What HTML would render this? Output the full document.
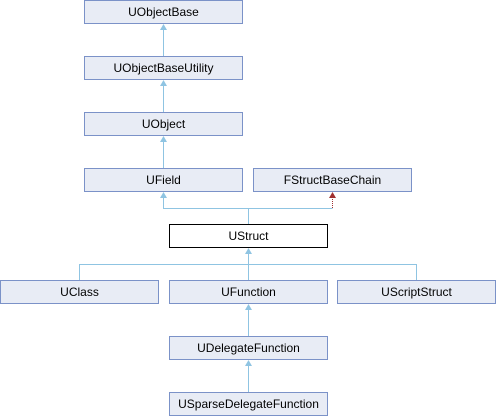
<html><head><style>body{margin:0;background:#fff}svg{display:block}text{font-family:"Liberation Sans",sans-serif;font-size:12px;text-anchor:middle}</style></head><body>
<svg width="497" height="416" xmlns="http://www.w3.org/2000/svg">
<g stroke="#8fc4e2" fill="none">
<line x1="163.5" y1="56" x2="163.5" y2="28"/>
<line x1="163.5" y1="112" x2="163.5" y2="84"/>
<line x1="163.5" y1="168" x2="163.5" y2="140"/>
<polyline points="248.5,224 248.5,208.5 163.5,208.5 163.5,196"/>
<line x1="248.5" y1="208.5" x2="332.5" y2="208.5"/>
<polyline points="79.5,280 79.5,264.5 416.5,264.5 416.5,280"/>
<line x1="248.5" y1="280" x2="248.5" y2="252"/>
<line x1="248.5" y1="336" x2="248.5" y2="308"/>
<line x1="248.5" y1="392" x2="248.5" y2="364"/>
</g>
<g fill="#8fc4e2">
<path d="M163.5,24 L160,30 L167,30z"/>
<path d="M163.5,80 L160,86 L167,86z"/>
<path d="M163.5,136 L160,142 L167,142z"/>
<path d="M163.5,192 L160,198 L167,198z"/>
<path d="M248.5,248 L245,254 L252,254z"/>
<path d="M248.5,304 L245,310 L252,310z"/>
<path d="M248.5,360 L245,366 L252,366z"/>
</g>
<line x1="332.5" y1="208" x2="332.5" y2="197" stroke="#a03030" stroke-dasharray="1,1"/>
<path d="M332.5,192 L329,198 L336,198z" fill="#a03030"/>
<g stroke="#7b92c8" fill="#e8ecf5">
<rect x="84.5" y="0.5" width="158" height="23"/>
<rect x="84.5" y="56.5" width="158" height="23"/>
<rect x="84.5" y="112.5" width="158" height="23"/>
<rect x="84.5" y="168.5" width="158" height="23"/>
<rect x="253.5" y="168.5" width="158" height="23"/>
<rect x="0.5" y="280.5" width="158" height="23"/>
<rect x="169.5" y="280.5" width="158" height="23"/>
<rect x="337.5" y="280.5" width="158" height="23"/>
<rect x="169.5" y="336.5" width="158" height="23"/>
<rect x="169.5" y="392.5" width="158" height="23"/>
</g>
<rect x="169.5" y="224.5" width="158" height="23" fill="#fff" stroke="#000"/>
<g fill="#000">
<text x="163.5" y="16">UObjectBase</text>
<text x="163.5" y="72">UObjectBaseUtility</text>
<text x="163.5" y="128">UObject</text>
<text x="163.5" y="184">UField</text>
<text x="332.5" y="184">FStructBaseChain</text>
<text x="248.5" y="240">UStruct</text>
<text x="79.5" y="296">UClass</text>
<text x="248.5" y="296">UFunction</text>
<text x="416.5" y="296">UScriptStruct</text>
<text x="248.5" y="352">UDelegateFunction</text>
<text x="248.5" y="408">USparseDelegateFunction</text>
</g>
</svg></body></html>
